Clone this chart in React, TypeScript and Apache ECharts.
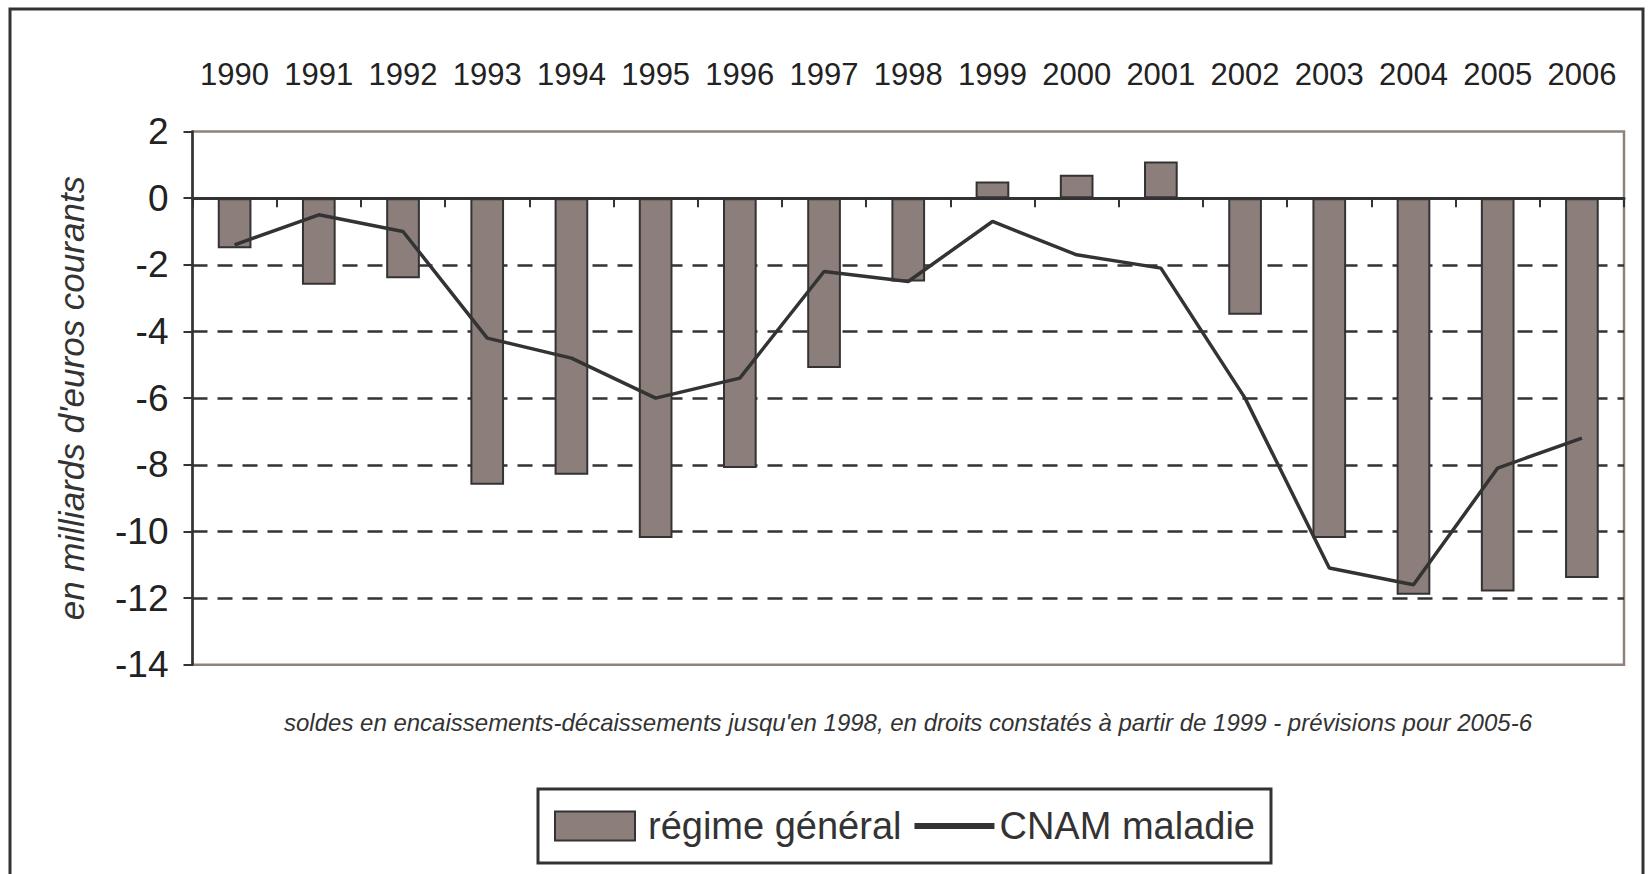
import React, { useEffect, useRef } from "react";
import * as echarts from "echarts";

const years = ["1990","1991","1992","1993","1994","1995","1996","1997","1998","1999","2000","2001","2002","2003","2004","2005","2006"];
const regimeGeneral = [-1.5, -2.6, -2.4, -8.6, -8.3, -10.2, -8.1, -5.1, -2.5, 0.5, 0.7, 1.1, -3.5, -10.2, -11.9, -11.8, -11.4];
const cnamMaladie = [-1.4, -0.5, -1.0, -4.2, -4.8, -6.0, -5.4, -2.2, -2.5, -0.7, -1.7, -2.1, -6.0, -11.1, -11.6, -8.1, -7.2];
const yMin = -14;
const yMax = 2;
const yStep = 2;
const seriesNames = ["régime général", "CNAM maladie"];
const yTitle = "en milliards d'euros courants";
const note = "soldes en encaissements-décaissements jusqu'en 1998, en droits constatés à partir de 1999 - prévisions pour 2005-6";

const FONT = "'Liberation Sans', Arial, sans-serif";
const DARK = "#333333";
const BAR = "#8c7f7b";

export default function App() {
  const ref = useRef<HTMLDivElement>(null);
  useEffect(() => {
    if (!ref.current) return;
    const chart = echarts.init(ref.current, null, { renderer: "svg" });
    const splitColors = [] as string[];
    const nLines = Math.round((yMax - yMin) / yStep) + 1;
    for (let i = 0; i < nLines; i++) splitColors.push(i === 0 || i === nLines - 1 ? "transparent" : DARK);
    chart.setOption({
      animation: false,
      backgroundColor: "#ffffff",
      textStyle: { fontFamily: FONT },
      title: {
        text: note,
        left: 284,
        top: 710,
        padding: 0,
        textStyle: { fontSize: 24, fontStyle: "italic", fontWeight: "normal", color: DARK },
      },
      graphic: [
        {
          type: "rect",
          shape: { x: 10, y: 9, width: 1633, height: 885 },
          style: { fill: "none", stroke: DARK, lineWidth: 3 },
          silent: true,
        },
      ],
      legend: {
        left: 538,
        top: 789,
        orient: "horizontal",
        padding: [18, 16, 18, 16],
        borderColor: DARK,
        borderWidth: 3,
        itemWidth: 80,
        itemHeight: 29,
        itemGap: 10,
        lineStyle: { width: 6 },
        textStyle: { fontSize: 38, color: DARK },
        data: [
          { name: seriesNames[0], icon: "rect", textStyle: { padding: [0, 0, 0, 8] } },
          {
            name: seriesNames[1],
            itemStyle: { color: "transparent", borderColor: "transparent", borderWidth: 0 },
            lineStyle: { width: 6, color: DARK },
          },
        ],
      },
      grid: {
        left: 192.5,
        right: 25,
        top: 131.5,
        bottom: 209.3,
        show: true,
        borderColor: "#8f827d",
        borderWidth: 2.5,
      },
      xAxis: [
        {
          type: "category",
          data: years,
          position: "bottom",
          boundaryGap: true,
          axisLine: { show: true, onZero: true, lineStyle: { color: DARK, width: 3 } },
          axisTick: { show: true, length: 9, interval: 0, lineStyle: { color: DARK, width: 2 } },
          axisLabel: { show: false },
          splitLine: { show: false },
        },
        {
          type: "category",
          data: years,
          position: "top",
          boundaryGap: true,
          axisLine: { show: false, onZero: false },
          axisTick: { show: false },
          axisLabel: { show: true, interval: 0, fontSize: 31, color: "#222", margin: 42 },
          splitLine: { show: false },
        },
      ],
      yAxis: {
        type: "value",
        min: yMin,
        max: yMax,
        interval: yStep,
        name: yTitle,
        nameLocation: "middle",
        nameRotate: 90,
        nameGap: 104,
        nameTextStyle: { fontSize: 35, fontStyle: "italic", color: DARK },
        axisLine: { show: true, lineStyle: { color: DARK, width: 2.5 } },
        axisTick: { show: true, length: 9, lineStyle: { color: DARK, width: 2 } },
        axisLabel: { fontSize: 37, color: "#222", margin: 24 },
        splitLine: { show: true, lineStyle: { type: [15, 10], width: 2.5, color: splitColors } },
      },
      series: [
        {
          name: seriesNames[0],
          type: "bar",
          xAxisIndex: 0,
          data: regimeGeneral,
          barWidth: "40%",
          itemStyle: { color: BAR, borderColor: DARK, borderWidth: 2 },
          z: 2,
        },
        {
          name: seriesNames[1],
          type: "line",
          xAxisIndex: 0,
          data: cnamMaladie,
          symbol: "none",
          lineStyle: { color: DARK, width: 3.5 },
          itemStyle: { color: DARK },
          z: 3,
        },
      ],
    });
    return () => chart.dispose();
  }, []);
  return <div ref={ref} style={{ position: "absolute", left: 0, top: 0, width: 1649, height: 874 }} />;
}
